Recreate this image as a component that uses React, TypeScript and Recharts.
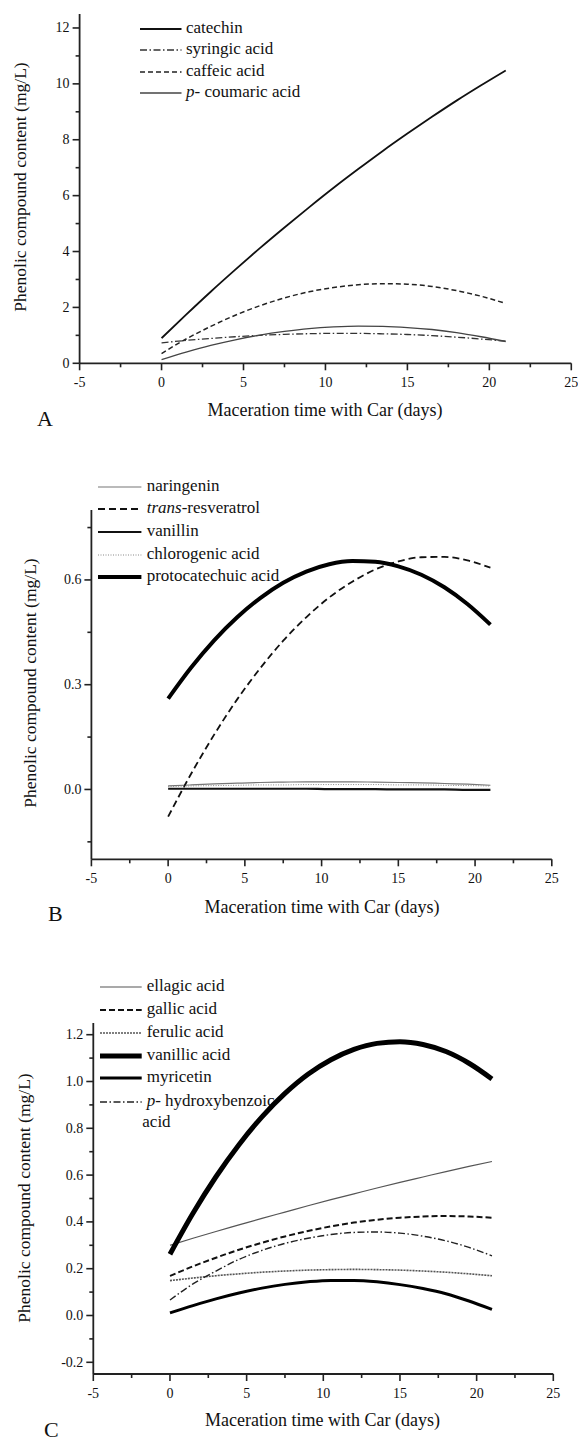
import React from "react";
import { LineChart, Line, XAxis, YAxis } from "recharts";

const FONT = '"Liberation Serif", "Times New Roman", Tinos, "DejaVu Serif", "Noto Serif", serif';

// sampling days shared by all fitted curves
const days = [0, 1.5, 3, 4.5, 6, 7.5, 9, 10.5, 12, 13.5, 15, 16.5, 18, 19.5, 21];

// panel A (mg/L)
const catechin = [0.9, 1.74, 2.56, 3.35, 4.12, 4.86, 5.58, 6.28, 6.95, 7.6, 8.22, 8.82, 9.4, 9.95, 10.48];
const syringicAcid = [0.73, 0.82, 0.89, 0.95, 1.0, 1.035, 1.06, 1.07, 1.07, 1.055, 1.03, 0.99, 0.935, 0.87, 0.79];
const caffeicAcid = [0.35, 0.87, 1.32, 1.72, 2.06, 2.34, 2.56, 2.71, 2.81, 2.85, 2.83, 2.75, 2.6, 2.4, 2.14];
const pCoumaricAcid = [0.13, 0.4, 0.64, 0.84, 1.01, 1.14, 1.24, 1.3, 1.33, 1.32, 1.28, 1.21, 1.1, 0.95, 0.78];

// panel B
const naringenin = [0.01, 0.013, 0.016, 0.018, 0.02, 0.021, 0.022, 0.022, 0.022, 0.021, 0.02, 0.019, 0.017, 0.015, 0.012];
const transResveratrol = [-0.078, 0.045, 0.157, 0.258, 0.347, 0.426, 0.493, 0.55, 0.595, 0.63, 0.653, 0.665, 0.666, 0.656, 0.635];
const vanillin = [0.002, 0.002, 0.002, 0.002, 0.002, 0.002, 0.002, 0.001, 0.001, 0.001, 0, 0, 0, -0.001, -0.001];
const chlorogenicAcid = [0.008, 0.01, 0.011, 0.012, 0.013, 0.013, 0.014, 0.014, 0.014, 0.014, 0.013, 0.013, 0.012, 0.011, 0.01];
const protocatechuicAcid = [0.26, 0.349, 0.427, 0.493, 0.548, 0.592, 0.624, 0.645, 0.654, 0.652, 0.639, 0.615, 0.579, 0.531, 0.472];

// panel C
const ellagicAcid = [0.3, 0.33, 0.359, 0.387, 0.415, 0.442, 0.469, 0.495, 0.52, 0.545, 0.569, 0.592, 0.615, 0.637, 0.658];
const gallicAcid = [0.169, 0.21, 0.247, 0.281, 0.311, 0.338, 0.361, 0.381, 0.397, 0.409, 0.418, 0.423, 0.425, 0.423, 0.418];
const ferulicAcid = [0.149, 0.16, 0.17, 0.178, 0.185, 0.19, 0.194, 0.196, 0.197, 0.196, 0.194, 0.19, 0.185, 0.178, 0.17];
const vanillicAcid = [0.262, 0.437, 0.593, 0.73, 0.849, 0.949, 1.031, 1.093, 1.137, 1.163, 1.17, 1.158, 1.128, 1.078, 1.011];
const myricetin = [0.011, 0.042, 0.071, 0.096, 0.117, 0.133, 0.144, 0.15, 0.15, 0.144, 0.132, 0.115, 0.093, 0.062, 0.026];
const pHydroxybenzoicAcid = [0.066, 0.135, 0.19, 0.24, 0.278, 0.308, 0.33, 0.346, 0.355, 0.357, 0.352, 0.339, 0.319, 0.291, 0.255];

// ticks
const xTicks = [-5, -2.5, 0, 2.5, 5, 7.5, 10, 12.5, 15, 17.5, 20, 22.5, 25];
const xMajor = [-5, 0, 5, 10, 15, 20, 25];
const yTicksA = [0, 1, 2, 3, 4, 5, 6, 7, 8, 9, 10, 11, 12];
const yMajorA = [0, 2, 4, 6, 8, 10, 12];
const yTicksB = [-0.15, 0, 0.15, 0.3, 0.45, 0.6, 0.75];
const yMajorB = [0, 0.3, 0.6];
const yTicksC = [-0.2, -0.1, 0, 0.1, 0.2, 0.3, 0.4, 0.5, 0.6, 0.7, 0.8, 0.9, 1.0, 1.1, 1.2];
const yMajorC = [-0.2, 0, 0.2, 0.4, 0.6, 0.8, 1.0, 1.2];

const AXIS = "#222";
const isIn = (arr: number[], v: number) => arr.some((m) => Math.abs(m - v) < 1e-6);

function makeXTick() {
  return (props: any) => {
    const { x, y, payload } = props;
    const major = isIn(xMajor, payload.value);
    return (
      <g>
        <line x1={x} x2={x} y1={y} y2={y + (major ? 7 : 4)} stroke={AXIS} strokeWidth={1.6} />
        {major && (
          <text x={x} y={y + 19} textAnchor="middle" dominantBaseline="central" fontSize={14} fontFamily={FONT} fill="#111">
            {payload.value}
          </text>
        )}
      </g>
    );
  };
}

function makeYTick(majors: number[], fmt: (v: number) => string) {
  return (props: any) => {
    const { x, y, payload } = props;
    const major = isIn(majors, payload.value);
    return (
      <g>
        <line x1={x} x2={x - (major ? 7 : 4)} y1={y} y2={y} stroke={AXIS} strokeWidth={1.6} />
        {major && (
          <text x={x - 10} y={y} textAnchor="end" dominantBaseline="central" fontSize={14} fontFamily={FONT} fill="#111">
            {fmt(payload.value)}
          </text>
        )}
      </g>
    );
  };
}

type Series = { key: string; label: React.ReactNode; values: number[]; color: string; width: number; dash?: string };

const seriesA: Series[] = [
  { key: "catechin", label: "catechin", values: catechin, color: "#111", width: 1.8 },
  { key: "syringic", label: "syringic acid", values: syringicAcid, color: "#333", width: 1.3, dash: "7 2.5 1.5 2.5" },
  { key: "caffeic", label: "caffeic acid", values: caffeicAcid, color: "#222", width: 1.5, dash: "5 3" },
  { key: "coumaric", label: <><i>p</i>- coumaric acid</>, values: pCoumaricAcid, color: "#444", width: 1.3 },
];

const seriesB: Series[] = [
  { key: "naringenin", label: "naringenin", values: naringenin, color: "#777", width: 1.2 },
  { key: "resveratrol", label: <><i>trans</i>-resveratrol</>, values: transResveratrol, color: "#111", width: 1.8, dash: "7 4" },
  { key: "vanillin", label: "vanillin", values: vanillin, color: "#111", width: 2.2 },
  { key: "chlorogenic", label: "chlorogenic acid", values: chlorogenicAcid, color: "#888", width: 1, dash: "1 1.5" },
  { key: "protocatechuic", label: "protocatechuic acid", values: protocatechuicAcid, color: "#000", width: 4 },
];

const seriesC: Series[] = [
  { key: "ellagic", label: "ellagic acid", values: ellagicAcid, color: "#555", width: 1.2 },
  { key: "gallic", label: "gallic acid", values: gallicAcid, color: "#111", width: 2, dash: "6 3" },
  { key: "ferulic", label: "ferulic acid", values: ferulicAcid, color: "#555", width: 1.6, dash: "2 1" },
  { key: "vanillic", label: "vanillic acid", values: vanillicAcid, color: "#000", width: 5 },
  { key: "myricetin", label: "myricetin", values: myricetin, color: "#000", width: 3 },
  { key: "hydroxybenzoic", label: <><i>p</i>- hydroxybenzoic</>, values: pHydroxybenzoicAcid, color: "#222", width: 1.4, dash: "7 2.5 1.5 2.5" },
];

function buildRows(series: Series[]) {
  return days.map((d, i) => {
    const row: Record<string, number> = { day: d };
    series.forEach((s) => {
      row[s.key] = s.values[i];
    });
    return row;
  });
}

type PanelCfg = {
  top: number;
  height: number;
  margin: { top: number; right: number; bottom: number; left: number };
  yDomain: [number, number];
  yTicks: number[];
  yMajor: number[];
  yFmt: (v: number) => string;
  series: Series[];
  legend: { x1: number; x2: number; textX: number; rows: number[] };
  yTitle: { cx: number; cy: number };
  xTitle: { cx: number; cy: number };
  letter: { text: string; x: number; top: number };
};

const panels: PanelCfg[] = [
  {
    top: 0,
    height: 440,
    margin: { top: 14, right: 6.7, bottom: 46.7, left: 19.6 },
    yDomain: [0, 12.5],
    yTicks: yTicksA,
    yMajor: yMajorA,
    yFmt: (v) => String(v),
    series: seriesA,
    legend: { x1: 140, x2: 181.5, textX: 186, rows: [28.7, 50, 71.7, 93.3] },
    yTitle: { cx: 20, cy: 186.5 },
    xTitle: { cx: 325, cy: 410 },
    letter: { text: "A", x: 37, top: 408 },
  },
  {
    top: 440,
    height: 490,
    margin: { top: 70.1, right: 26.2, bottom: 40.7, left: 31.4 },
    yDomain: [-0.2, 0.8],
    yTicks: yTicksB,
    yMajor: yMajorB,
    yFmt: (v) => v.toFixed(1),
    series: seriesB,
    legend: { x1: 98.3, x2: 141.7, textX: 146.7, rows: [486.7, 509.3, 531.7, 555, 576.7] },
    yTitle: { cx: 29.5, cy: 683 },
    xTitle: { cx: 322, cy: 906.7 },
    letter: { text: "B", x: 48, top: 903 },
  },
  {
    top: 930,
    height: 513,
    margin: { top: 93, right: 24.7, bottom: 39, left: 33.3 },
    yDomain: [-0.25, 1.25],
    yTicks: yTicksC,
    yMajor: yMajorC,
    yFmt: (v) => v.toFixed(1),
    series: seriesC,
    legend: { x1: 100, x2: 141.7, textX: 146.7, rows: [986.7, 1010, 1032.7, 1056, 1078.3, 1101.7] },
    yTitle: { cx: 24, cy: 1197.5 },
    xTitle: { cx: 322.5, cy: 1420 },
    letter: { text: "C", x: 44, top: 1419 },
  },
];

const textStyle: React.CSSProperties = {
  position: "absolute",
  fontFamily: FONT,
  color: "#111",
  whiteSpace: "nowrap",
};

function Panel({ cfg }: { cfg: PanelCfg }) {
  const rows = buildRows(cfg.series);
  const { legend } = cfg;
  return (
    <>
      {cfg.series.map((s, i) => (
        <React.Fragment key={s.key}>
          <svg
            style={{ position: "absolute", left: legend.x1, top: legend.rows[i] - 6, overflow: "visible" }}
            width={legend.x2 - legend.x1}
            height={12}
          >
            <line x1={0} x2={legend.x2 - legend.x1} y1={6} y2={6} stroke={s.color} strokeWidth={s.width} strokeDasharray={s.dash} />
          </svg>
          <div style={{ ...textStyle, left: legend.textX, top: legend.rows[i] - 12, height: 22, lineHeight: "22px", fontSize: 17 }}>
            {s.label}
          </div>
        </React.Fragment>
      ))}
      {cfg.series.length === 6 && (
        <div style={{ ...textStyle, left: 142.3, top: 1123.3 - 12, height: 22, lineHeight: "22px", fontSize: 17 }}>acid</div>
      )}
      <div
        style={{
          ...textStyle,
          left: cfg.yTitle.cx - 170,
          top: cfg.yTitle.cy - 11,
          width: 340,
          height: 22,
          lineHeight: "22px",
          fontSize: 17.5,
          textAlign: "center",
          transform: "rotate(-90deg)",
        }}
      >
        Phenolic compound content (mg/L)
      </div>
      <div
        style={{
          ...textStyle,
          left: cfg.xTitle.cx - 200,
          top: cfg.xTitle.cy - 11,
          width: 400,
          height: 22,
          lineHeight: "22px",
          fontSize: 18,
          textAlign: "center",
        }}
      >
        Maceration time with Car (days)
      </div>
      <div style={{ ...textStyle, left: cfg.letter.x, top: cfg.letter.top, fontSize: 22, lineHeight: "22px" }}>{cfg.letter.text}</div>
      <div style={{ position: "absolute", left: 0, top: cfg.top }}>
        <LineChart width={578} height={cfg.height} data={rows} margin={cfg.margin}>
          <XAxis
            dataKey="day"
            type="number"
            domain={[-5, 25]}
            ticks={xTicks}
            interval={0}
            tickSize={0}
            tickMargin={0}
            tickLine={false}
            tick={makeXTick()}
            axisLine={{ stroke: AXIS, strokeWidth: 1.8 }}
            height={30}
            allowDataOverflow
          />
          <YAxis
            type="number"
            domain={cfg.yDomain}
            ticks={cfg.yTicks}
            interval={0}
            tickSize={0}
            tickMargin={0}
            tickLine={false}
            tick={makeYTick(cfg.yMajor, cfg.yFmt)}
            axisLine={{ stroke: AXIS, strokeWidth: 1.8 }}
            width={60}
            allowDataOverflow
          />
          {cfg.series.map((s) => (
            <Line
              key={s.key}
              dataKey={s.key}
              type="monotone"
              stroke={s.color}
              strokeWidth={s.width}
              strokeDasharray={s.dash}
              dot={false}
              activeDot={false}
              isAnimationActive={false}
            />
          ))}
        </LineChart>
      </div>
    </>
  );
}

export default function App() {
  return (
    <div style={{ position: "absolute", left: 0, top: 0, width: 578, height: 1443, background: "#fff", overflow: "hidden" }}>
      {panels.map((p) => (
        <Panel key={p.letter.text} cfg={p} />
      ))}
    </div>
  );
}
